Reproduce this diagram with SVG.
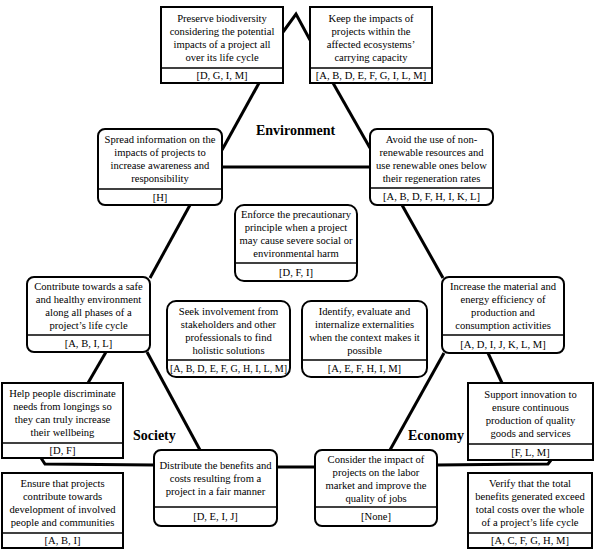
<svg xmlns="http://www.w3.org/2000/svg" width="598" height="554" viewBox="0 0 598 554">
  <style>
    .box { fill: #fff; stroke: #000; stroke-width: 2; }
    .div { stroke: #000; stroke-width: 1.6; }
    .t { font-family: "Liberation Serif", "Times New Roman", serif; font-size: 10.6px; fill: #000; text-anchor: middle; }
    .lbl { font-family: "Liberation Serif", "Times New Roman", serif; font-size: 14px; font-weight: bold; fill: #000; }
    .conn { fill: none; stroke: #000; stroke-width: 3; stroke-linejoin: miter; }
  </style>
  <rect width="598" height="554" fill="#fff"/>

  <!-- connectors -->
  <g id="connectors" class="conn">
    <polyline points="283,32 296,14 310,40"/>
    <line x1="259" y1="83" x2="222" y2="150"/>
    <line x1="333" y1="83" x2="370" y2="148"/>
    <line x1="222" y1="167" x2="370" y2="167"/>
    <line x1="190" y1="205" x2="150" y2="278"/>
    <line x1="402" y1="205" x2="443" y2="278"/>
    <line x1="106" y1="352" x2="88" y2="383"/>
    <line x1="147" y1="352" x2="200" y2="450"/>
    <polyline points="154,465 45,464 41,458"/>
    <line x1="277" y1="467" x2="315" y2="467"/>
    <line x1="444" y1="353" x2="390" y2="450"/>
    <line x1="488" y1="353" x2="502" y2="383"/>
    <polyline points="437,465 548,464 551,460"/>
  </g>

  <!-- pillar labels -->
  <g id="labels">
    <text class="lbl" x="256" y="135">Environment</text>
    <text class="lbl" x="133" y="440">Society</text>
    <text class="lbl" x="408" y="440">Economy</text>
  </g>

  <g id="preserve">
    <rect class="box" x="161" y="7" width="122" height="76"/>
    <line class="div" x1="161" y1="68" x2="283" y2="68"/>
    <text class="t" x="222" y="21.5">Preserve biodiversity</text>
    <text class="t" x="222" y="34.5">considering the potential</text>
    <text class="t" x="222" y="47.5">impacts of a project all</text>
    <text class="t" x="222" y="60.5">over its life cycle</text>
    <text class="t" x="222" y="79.3">[D, G, I, M]</text>
  </g>

  <g id="keep">
    <rect class="box" x="310" y="7" width="122" height="76"/>
    <line class="div" x1="310" y1="68" x2="432" y2="68"/>
    <text class="t" x="371" y="21.5">Keep the impacts of</text>
    <text class="t" x="371" y="34.5">projects within the</text>
    <text class="t" x="371" y="47.5">affected ecosystems’</text>
    <text class="t" x="371" y="60.5">carrying capacity</text>
    <text class="t" x="371" y="79.3">[A, B, D, E, F, G, I, L, M]</text>
  </g>

  <g id="spread">
    <rect class="box" x="98" y="129" width="124" height="76" rx="7"/>
    <line class="div" x1="98" y1="189" x2="222" y2="189"/>
    <text class="t" x="160" y="143">Spread information on the</text>
    <text class="t" x="160" y="156">impacts of projects to</text>
    <text class="t" x="160" y="169">increase awareness and</text>
    <text class="t" x="160" y="182">responsibility</text>
    <text class="t" x="160" y="200.8">[H]</text>
  </g>

  <g id="avoid">
    <rect class="box" x="370" y="129" width="123" height="76" rx="7"/>
    <line class="div" x1="370" y1="188" x2="493" y2="188"/>
    <text class="t" x="431.5" y="142.5">Avoid the use of non-</text>
    <text class="t" x="431.5" y="155.5">renewable resources and</text>
    <text class="t" x="431.5" y="168.5">use renewable ones below</text>
    <text class="t" x="431.5" y="181.5">their regeneration rates</text>
    <text class="t" x="431.5" y="200.3">[A, B, D, F, H, I, K, L]</text>
  </g>

  <g id="enforce">
    <rect class="box" x="235" y="205" width="122" height="76" rx="9"/>
    <line class="div" x1="235" y1="263" x2="357" y2="263"/>
    <text class="t" x="296" y="218">Enforce the precautionary</text>
    <text class="t" x="296" y="231">principle when a project</text>
    <text class="t" x="296" y="244">may cause severe social or</text>
    <text class="t" x="296" y="257">environmental harm</text>
    <text class="t" x="296" y="275.8">[D, F, I]</text>
  </g>

  <g id="contribute">
    <rect class="box" x="27" y="277" width="123" height="75" rx="7"/>
    <line class="div" x1="27" y1="335" x2="150" y2="335"/>
    <text class="t" x="88.5" y="290">Contribute towards a safe</text>
    <text class="t" x="88.5" y="303">and healthy environment</text>
    <text class="t" x="88.5" y="316">along all phases of a</text>
    <text class="t" x="88.5" y="329">project’s life cycle</text>
    <text class="t" x="88.5" y="347.3">[A, B, I, L]</text>
  </g>

  <g id="increase">
    <rect class="box" x="442" y="277" width="122" height="76" rx="7"/>
    <line class="div" x1="442" y1="335" x2="564" y2="335"/>
    <text class="t" x="503" y="290">Increase the material and</text>
    <text class="t" x="503" y="303">energy efficiency of</text>
    <text class="t" x="503" y="316">production and</text>
    <text class="t" x="503" y="329">consumption activities</text>
    <text class="t" x="503" y="347.8">[A, D, I, J, K, L, M]</text>
  </g>

  <g id="seek">
    <rect class="box" x="167" y="301" width="123" height="76" rx="9"/>
    <line class="div" x1="167" y1="360" x2="290" y2="360"/>
    <text class="t" x="228.5" y="314.5">Seek involvement from</text>
    <text class="t" x="228.5" y="327.5">stakeholders and other</text>
    <text class="t" x="228.5" y="340.5">professionals to find</text>
    <text class="t" x="228.5" y="353.5">holistic solutions</text>
    <text class="t" x="228.5" y="372.3" textLength="117" lengthAdjust="spacingAndGlyphs">[A, B, D, E, F, G, H, I, L, M]</text>
  </g>

  <g id="identify">
    <rect class="box" x="302" y="301" width="125" height="76" rx="9"/>
    <line class="div" x1="302" y1="360" x2="427" y2="360"/>
    <text class="t" x="364.5" y="314.5">Identify, evaluate and</text>
    <text class="t" x="364.5" y="327.5">internalize externalities</text>
    <text class="t" x="364.5" y="340.5">when the context makes it</text>
    <text class="t" x="364.5" y="353.5">possible</text>
    <text class="t" x="364.5" y="372.3">[A, E, F, H, I, M]</text>
  </g>

  <g id="help">
    <rect class="box" x="2" y="383" width="121" height="75"/>
    <line class="div" x1="2" y1="443" x2="123" y2="443"/>
    <text class="t" x="62.5" y="397">Help people discriminate</text>
    <text class="t" x="62.5" y="410">needs from longings so</text>
    <text class="t" x="62.5" y="423">they can truly increase</text>
    <text class="t" x="62.5" y="436">their wellbeing</text>
    <text class="t" x="62.5" y="454.3">[D, F]</text>
  </g>

  <g id="support">
    <rect class="box" x="468" y="383" width="125" height="77"/>
    <line class="div" x1="468" y1="444" x2="593" y2="444"/>
    <text class="t" x="530.5" y="397.5">Support innovation to</text>
    <text class="t" x="530.5" y="410.5">ensure continuous</text>
    <text class="t" x="530.5" y="423.5">production of quality</text>
    <text class="t" x="530.5" y="436.5">goods and services</text>
    <text class="t" x="530.5" y="455.8">[F, L, M]</text>
  </g>

  <g id="distribute">
    <rect class="box" x="154" y="450" width="123" height="76" rx="7"/>
    <line class="div" x1="154" y1="507" x2="277" y2="507"/>
    <text class="t" x="215.5" y="469">Distribute the benefits and</text>
    <text class="t" x="215.5" y="482">costs resulting from a</text>
    <text class="t" x="215.5" y="495">project in a fair manner</text>
    <text class="t" x="215.5" y="520.3">[D, E, I, J]</text>
  </g>

  <g id="consider">
    <rect class="box" x="315" y="450" width="122" height="76" rx="7"/>
    <line class="div" x1="315" y1="507" x2="437" y2="507"/>
    <text class="t" x="376" y="462.5">Consider the impact of</text>
    <text class="t" x="376" y="475.5">projects on the labor</text>
    <text class="t" x="376" y="488.5">market and improve the</text>
    <text class="t" x="376" y="501.5">quality of jobs</text>
    <text class="t" x="376" y="520.3">[None]</text>
  </g>

  <g id="ensure">
    <rect class="box" x="2" y="473" width="121" height="75"/>
    <line class="div" x1="2" y1="533" x2="123" y2="533"/>
    <text class="t" x="62.5" y="487">Ensure that projects</text>
    <text class="t" x="62.5" y="500">contribute towards</text>
    <text class="t" x="62.5" y="513">development of involved</text>
    <text class="t" x="62.5" y="526">people and communities</text>
    <text class="t" x="62.5" y="544.3">[A, B, I]</text>
  </g>

  <g id="verify">
    <rect class="box" x="468" y="473" width="124" height="75"/>
    <line class="div" x1="468" y1="533" x2="592" y2="533"/>
    <text class="t" x="530" y="487">Verify that the total</text>
    <text class="t" x="530" y="500">benefits generated exceed</text>
    <text class="t" x="530" y="513">total costs over the whole</text>
    <text class="t" x="530" y="526">of a project’s life cycle</text>
    <text class="t" x="530" y="544.3">[A, C, F, G, H, M]</text>
  </g>
</svg>
